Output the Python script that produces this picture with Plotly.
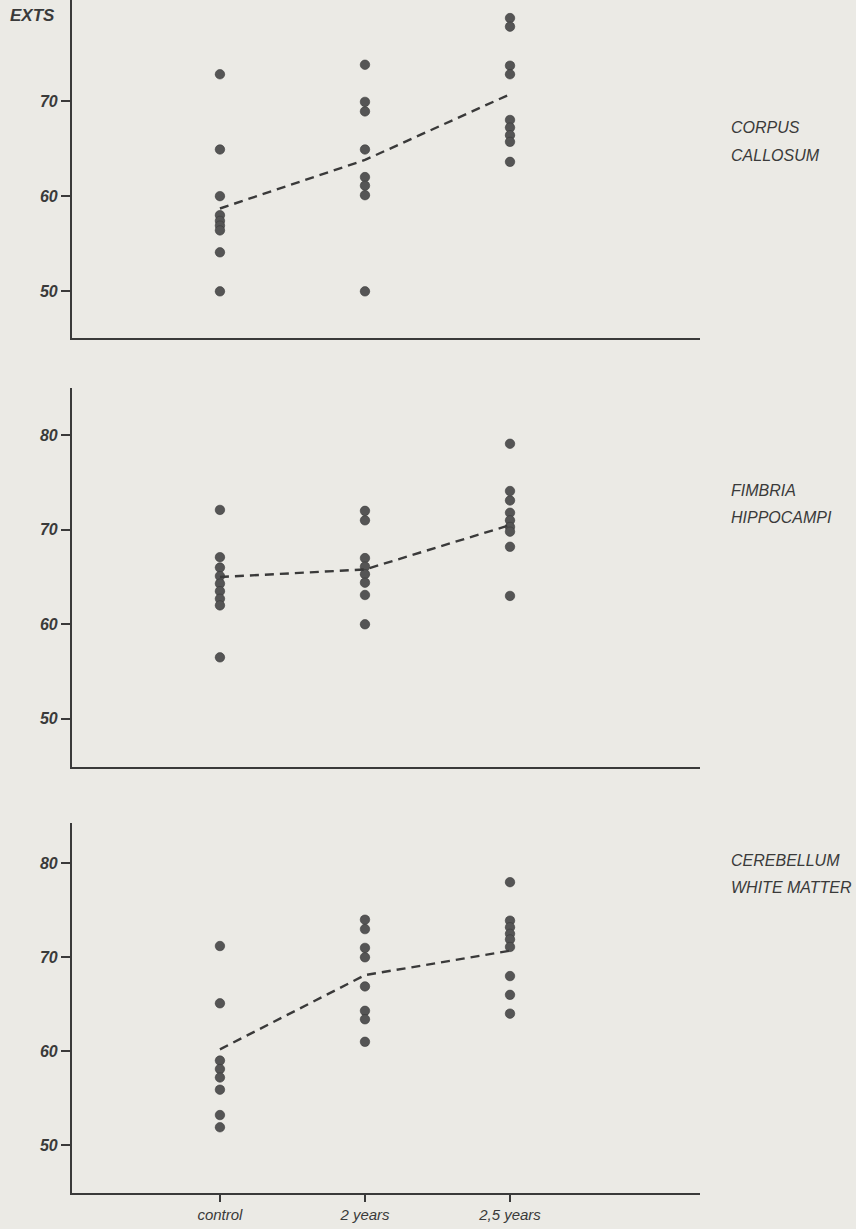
import plotly.graph_objects as go

categories = ["control", "2 years", "2,5 years"]
cat_pos = [0, 1, 2]

# Corpus callosum
cc_control = [72.8, 64.9, 60.0, 58.0, 57.4, 56.9, 56.4, 54.1, 50.0]
cc_2y = [73.8, 69.9, 68.9, 64.9, 62.0, 61.1, 60.1, 50.0]
cc_25y = [78.7, 77.8, 73.7, 72.8, 68.0, 67.2, 66.4, 65.7, 63.6]
cc_mean = [58.7, 63.8, 70.7]

# Fimbria hippocampi
fh_control = [72.1, 67.1, 66.0, 65.1, 64.3, 63.5, 62.7, 62.0, 56.5]
fh_2y = [72.0, 71.0, 67.0, 66.1, 65.3, 64.4, 63.1, 60.0]
fh_25y = [79.1, 74.1, 73.1, 71.8, 71.0, 70.3, 69.8, 68.2, 63.0]
fh_mean = [65.0, 65.8, 70.5]

# Cerebellum white matter
cw_control = [71.2, 65.1, 59.0, 58.1, 57.2, 55.9, 53.2, 51.9]
cw_2y = [74.0, 73.0, 71.0, 70.0, 66.9, 64.3, 63.4, 61.0]
cw_25y = [78.0, 73.9, 73.2, 72.5, 71.9, 71.1, 68.0, 66.0, 64.0]
cw_mean = [60.2, 68.1, 70.7]

panels = [
    (["CORPUS", "CALLOSUM"], cc_control, cc_2y, cc_25y, cc_mean, [50, 60, 70]),
    (["FIMBRIA", "HIPPOCAMPI"], fh_control, fh_2y, fh_25y, fh_mean, [50, 60, 70, 80]),
    (["CEREBELLUM", "WHITE MATTER"], cw_control, cw_2y, cw_25y, cw_mean, [50, 60, 70, 80]),
]

W, H = 856, 1229
BG = "#ebeae5"
INK = "#3a3a3a"
DOT = "#555555"
FONT = "Liberation Sans"

# layout geometry (pixels)
x_left, x_right = 72, 700
panel_px = [(0, 338), (388, 767), (823, 1193)]
y_ranges = [[45.1, 80.6], [44.9, 85.0], [44.9, 84.3]]
title_y_px = [128, 490, 860]
line_gap = 27

fig = go.Figure()
layout = dict(
    width=W, height=H,
    margin=dict(l=0, r=0, t=0, b=0),
    paper_bgcolor=BG, plot_bgcolor=BG,
    showlegend=False,
    annotations=[],
)

xdom = [x_left / W, x_right / W]
for i, (title, c0, c1, c2, mean, ticks) in enumerate(panels):
    n = "" if i == 0 else str(i + 1)
    xa, ya = "x" + n, "y" + n
    for pos, vals in zip(cat_pos, [c0, c1, c2]):
        fig.add_trace(go.Scatter(
            x=[pos] * len(vals), y=vals, mode="markers",
            marker=dict(size=9.5, color=DOT, line=dict(width=0.6, color="#3a3a3a")),
            xaxis=xa, yaxis=ya, hoverinfo="y"))
    fig.add_trace(go.Scatter(
        x=cat_pos, y=mean, mode="lines",
        line=dict(color=INK, width=2.4, dash="9px,6px"),
        xaxis=xa, yaxis=ya))
    top, bot = panel_px[i]
    ydom = [1 - bot / H, 1 - top / H]
    last = (i == 2)
    layout["xaxis" + n] = dict(
        domain=xdom, range=[-1.02, 3.31], anchor=ya,
        showline=True, linecolor=INK, linewidth=2.2,
        showgrid=False, zeroline=False,
        tickvals=cat_pos if last else [],
        ticktext=categories if last else [],
        ticks="outside" if last else "", ticklen=7, tickwidth=2, tickcolor=INK,
        tickfont=dict(family=FONT, size=15, color=INK, style="italic"),
        fixedrange=True,
    )
    layout["yaxis" + n] = dict(
        domain=ydom, range=y_ranges[i], anchor=xa,
        showline=True, linecolor=INK, linewidth=2.2,
        showgrid=False, zeroline=False,
        tickvals=ticks, ticks="outside", ticklen=9, tickwidth=2, tickcolor=INK,
        tickfont=dict(family=FONT, size=16, color=INK, style="italic", weight="bold"),
        fixedrange=True,
    )
    for k, line in enumerate(title):
        layout["annotations"].append(dict(
            text=line, xref="paper", yref="paper",
            x=729 / W, y=1 - (title_y_px[i] + k * line_gap) / H,
            xanchor="left", yanchor="middle",
            align="left", showarrow=False,
            font=dict(family=FONT, size=16, color=INK, style="italic"),
        ))

layout["annotations"].append(dict(
    text="<b>EXTS</b>", xref="paper", yref="paper",
    x=8 / W, y=1 - 16 / H, xanchor="left", yanchor="middle",
    showarrow=False, font=dict(family=FONT, size=17, color=INK, style="italic"),
))

fig.update_layout(**layout)
fig.write_html("out.html")
